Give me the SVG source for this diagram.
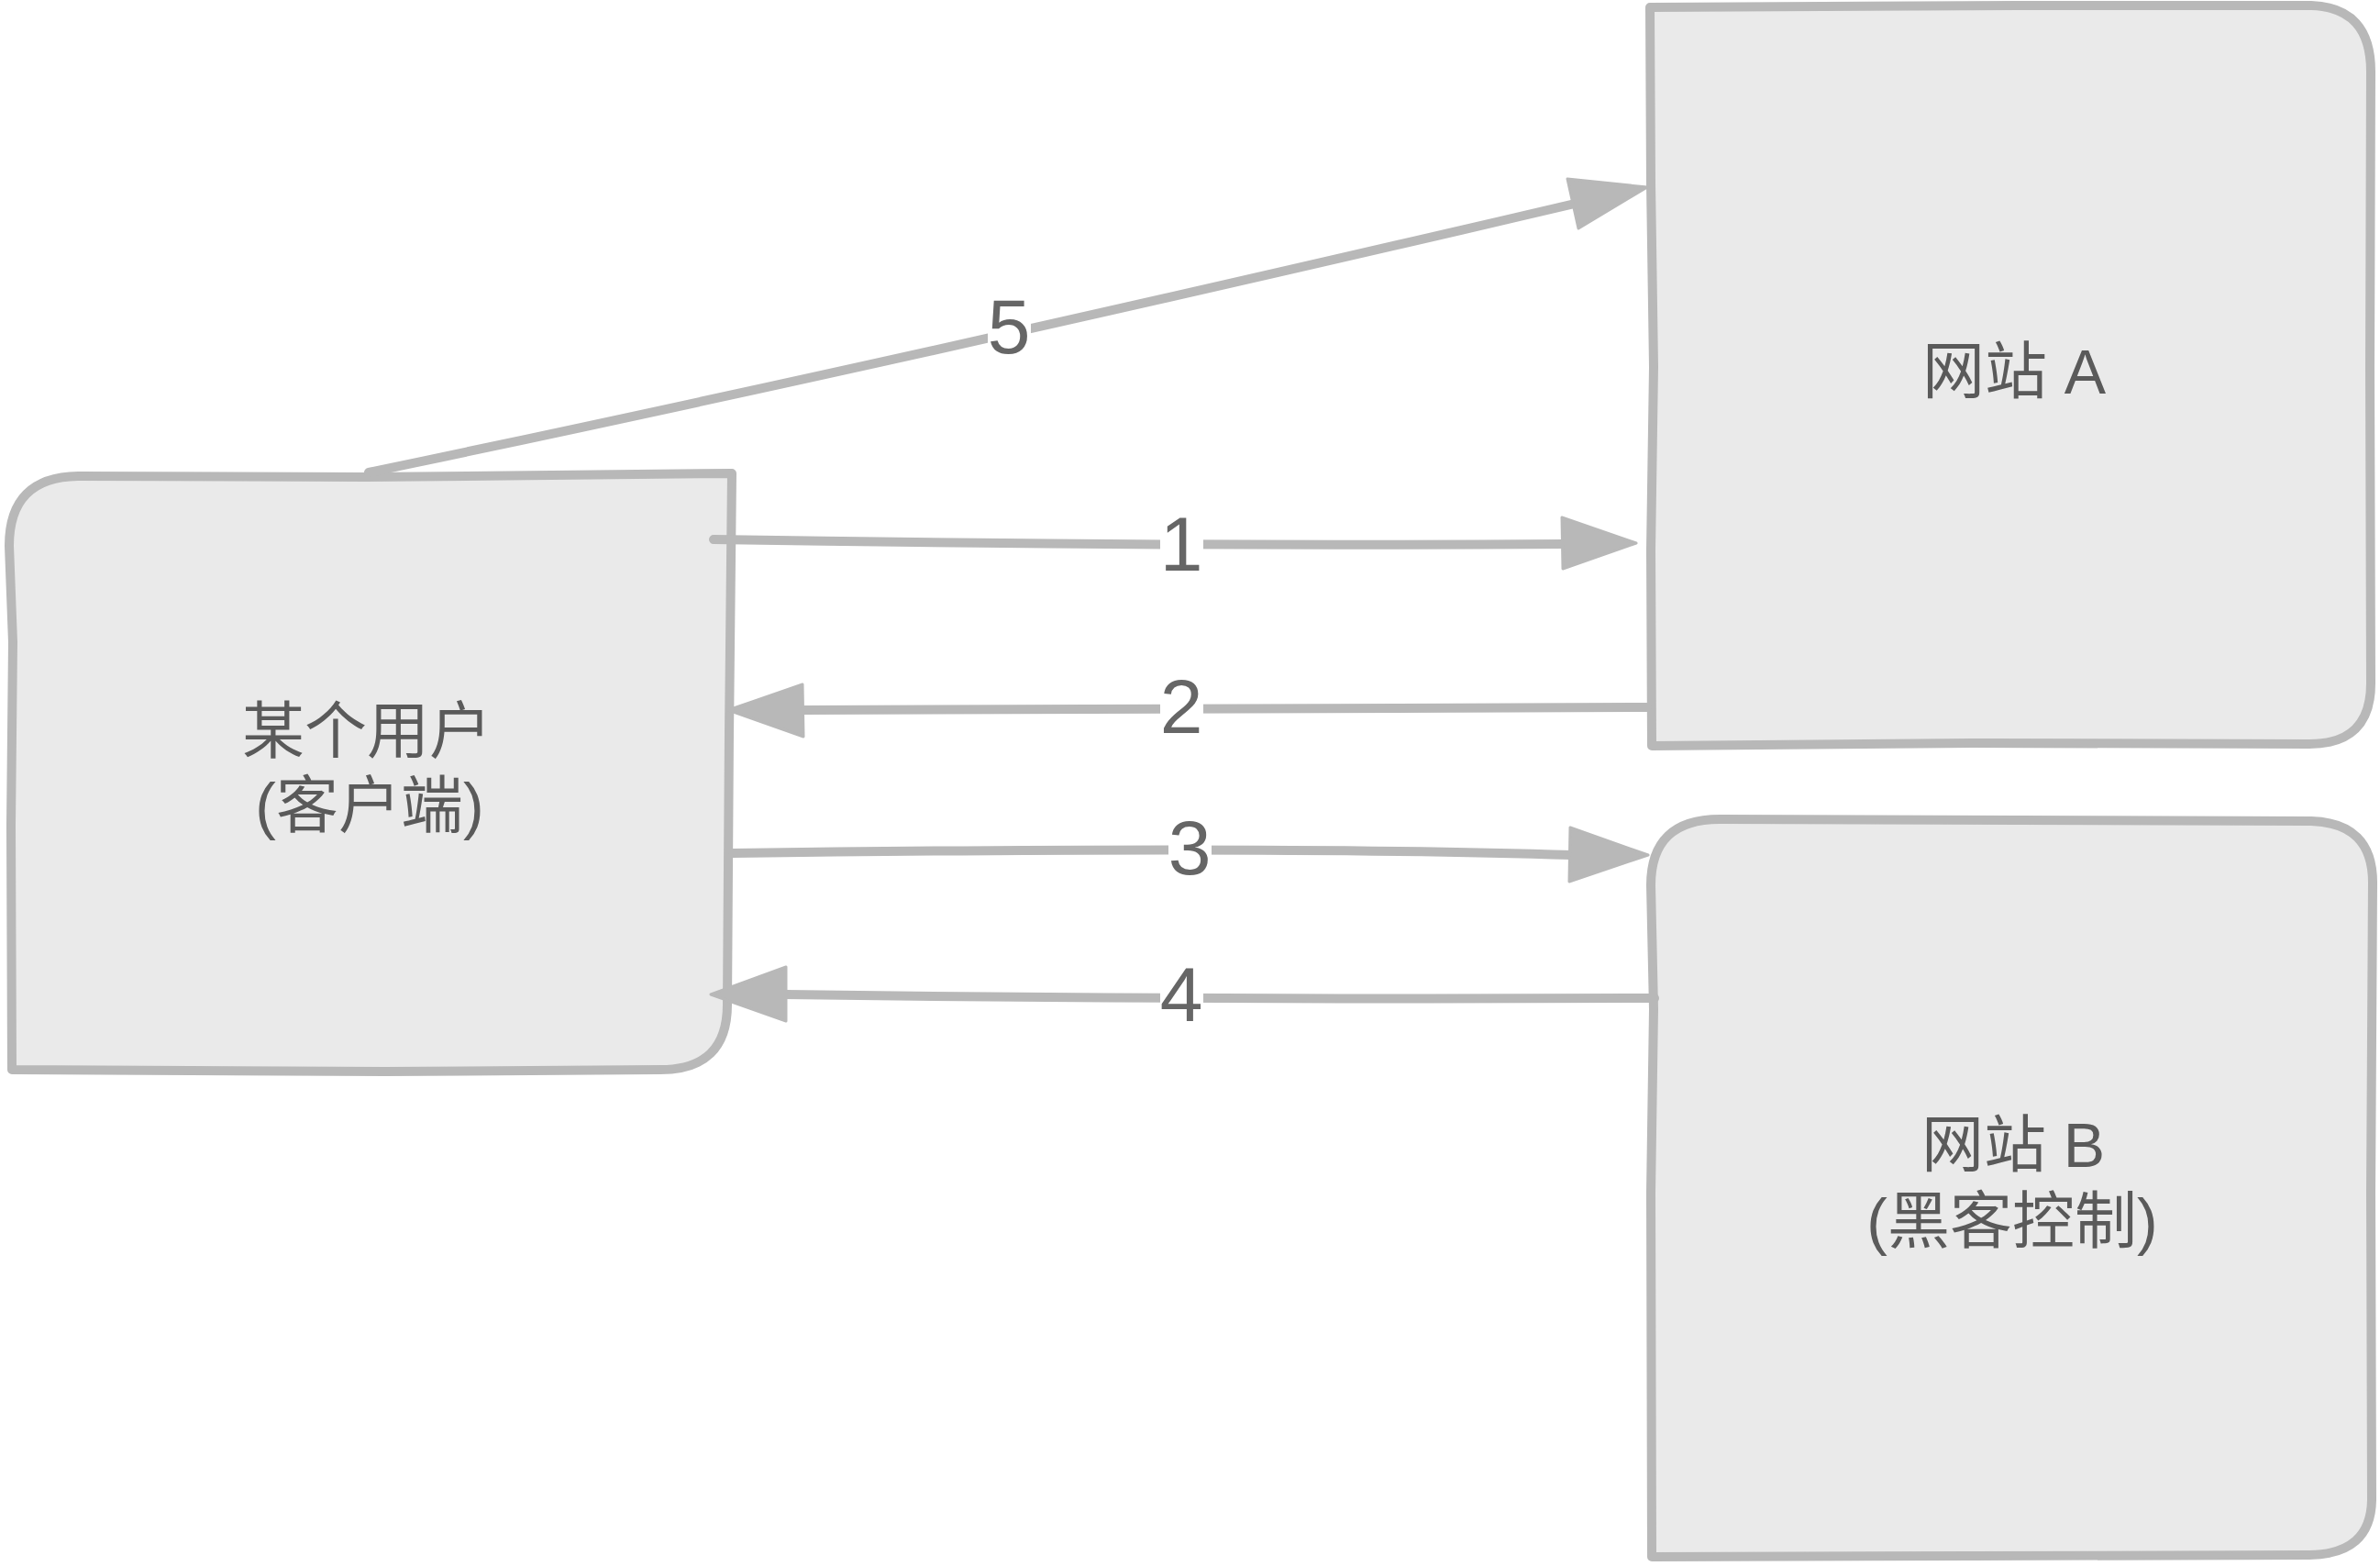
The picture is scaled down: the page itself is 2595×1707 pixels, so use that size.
<svg xmlns="http://www.w3.org/2000/svg" width="2595" height="1707" viewBox="0 0 2595 1707">
<style>
.box{fill:#eaeaea;stroke:#b8b8b8;stroke-width:10;stroke-linejoin:round;stroke-linecap:round}
.edge{fill:none;stroke:#b8b8b8;stroke-width:10;stroke-linecap:round}
.head{fill:#b8b8b8;stroke:#b8b8b8;stroke-width:3;stroke-linejoin:round}
.nt{font-family:"Liberation Sans","Noto Sans CJK SC",sans-serif;font-size:68px;fill:#5a5a5a;text-anchor:middle;dominant-baseline:central}
.lb{font-family:"Liberation Sans",sans-serif;font-size:84px;fill:#666666;text-anchor:middle;dominant-baseline:central}
.bg{fill:#ffffff}
</style>
<rect width="2595" height="1707" fill="#ffffff"/>
<g id="client">
<path class="box" d="M798,516 L795,800 L793,1095 Q793,1166 720,1166 L420,1168 L13,1166 L12,900 L14,700 L10,595 Q10,520 85,519 L400,520 L798,516 Z"/>
<text class="nt" x="400" y="797">某个用户</text>
<text class="nt" x="403" y="878">(客户端)</text>
</g>
<g id="siteA">
<path class="box" d="M1799,8 L2200,6 L2520,6 Q2585,8 2585,78 L2584,400 L2585,745 Q2585,811 2518,811 L2150,810 L1801,813 L1800,600 L1803,400 L1800,200 L1799,8 Z"/>
<text class="nt" x="2196" y="405">网站 A</text>
</g>
<g id="siteB">
<path class="box" d="M1801,1697 L1800,1300 L1803,1100 L1800,965 Q1800,893 1875,893 L2200,894 L2520,895 Q2587,897 2587,962 L2585,1300 L2586,1635 Q2585,1694 2518,1695 L2150,1696 L1801,1697 Z"/>
<text class="nt" x="2195" y="1248">网站 B</text>
<text class="nt" x="2194" y="1331">(黑客控制)</text>
</g>
<g id="connectors">
<path class="edge" d="M778,588 Q1250,596 1705,593"/>
<polygon class="head" points="1784,592 1703,564 1704,620"/>
<rect class="bg" x="1265" y="550" width="47" height="84"/>
<text class="lb" x="1288" y="593">1</text>

<path class="edge" d="M1796,771 Q1300,772 875,774"/>
<polygon class="head" points="794,774 875,746 876,803"/>
<rect class="bg" x="1265" y="728" width="47" height="84"/>
<text class="lb" x="1288" y="770">2</text>

<path class="edge" d="M799,930 Q1400,922 1714,932"/>
<polygon class="head" points="1797,932 1712,902 1711,961"/>
<rect class="bg" x="1274" y="882" width="47" height="84"/>
<text class="lb" x="1297" y="924">3</text>

<path class="edge" d="M1804,1088 Q1300,1090 856,1084"/>
<polygon class="head" points="775,1084 857,1054 857,1113"/>
<rect class="bg" x="1265" y="1042" width="47" height="84"/>
<text class="lb" x="1288" y="1084">4</text>

<path class="edge" d="M402,515 Q1000,390 1717,222"/>
<polygon class="head" points="1796,204 1709,195 1721,249"/>
<rect class="bg" x="1077" y="316" width="47" height="80"/>
<text class="lb" x="1100" y="356">5</text>
</g>
</svg>
